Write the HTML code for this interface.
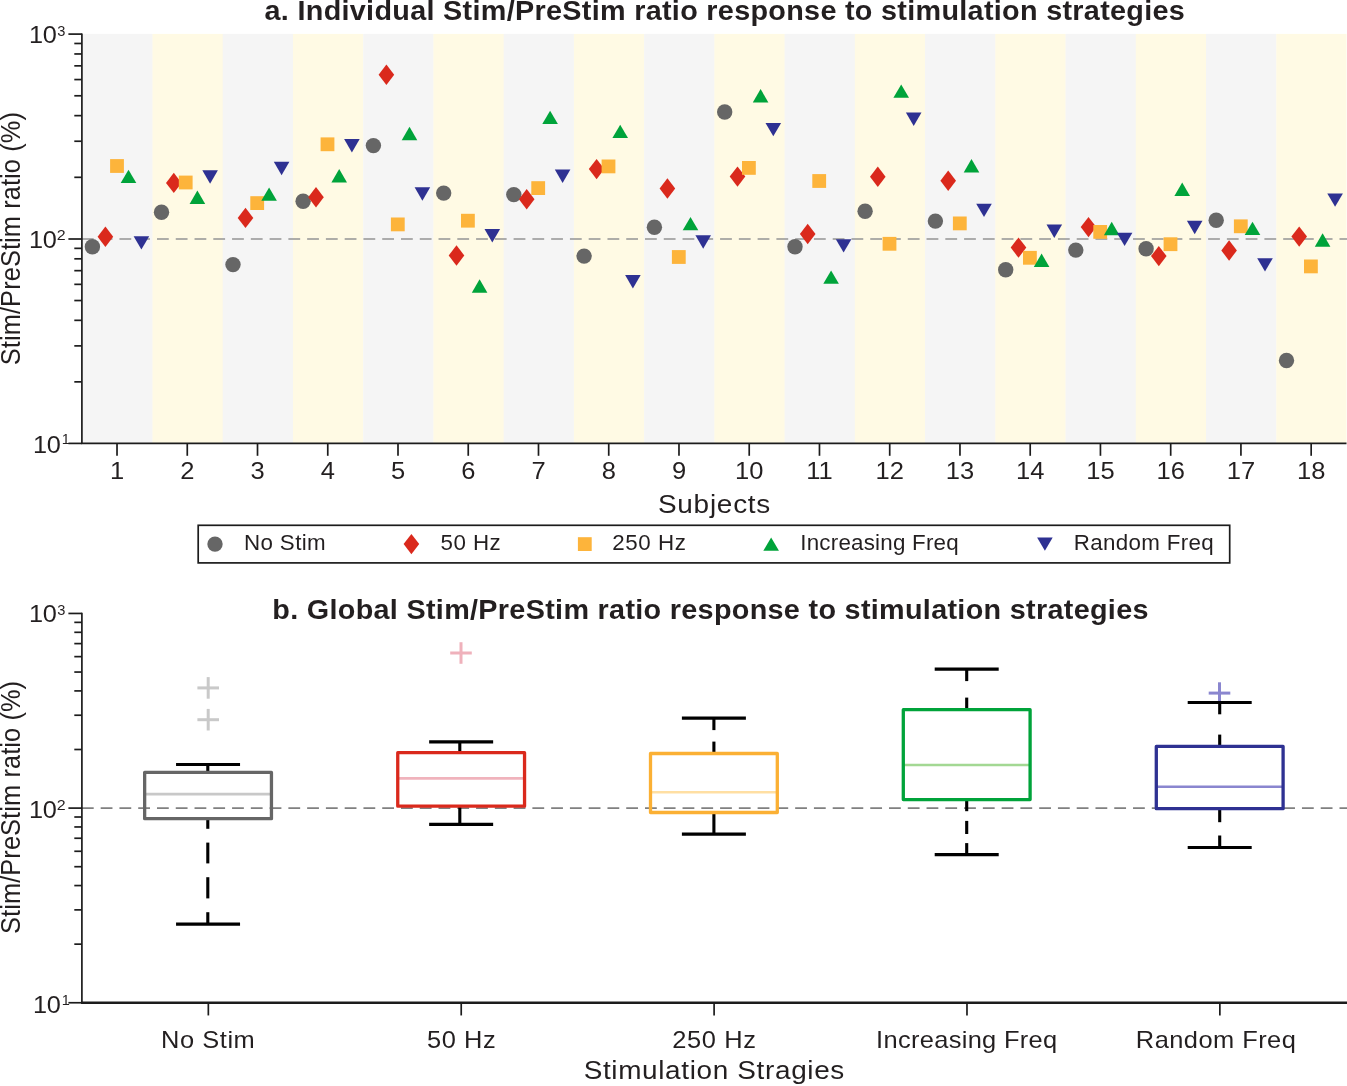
<!DOCTYPE html>
<html lang="en">
<head>
<meta charset="utf-8">
<title>Stim/PreStim ratio response to stimulation strategies</title>
<style>
html,body{margin:0;padding:0;background:#fff;}
body{width:1347px;height:1086px;overflow:hidden;}
svg{display:block;will-change:transform;}
svg text{font-family:"Liberation Sans", sans-serif;fill:#231f20;}
</style>
</head>
<body>
<svg width="1347" height="1086" viewBox="0 0 1347 1086">
<rect width="1347" height="1086" fill="#ffffff"/>
<rect x="82.25" y="33.90" width="70.54" height="409.50" fill="#f5f5f5"/>
<rect x="152.49" y="33.90" width="70.54" height="409.50" fill="#fffae4"/>
<rect x="222.72" y="33.90" width="70.54" height="409.50" fill="#f5f5f5"/>
<rect x="292.96" y="33.90" width="70.54" height="409.50" fill="#fffae4"/>
<rect x="363.19" y="33.90" width="70.54" height="409.50" fill="#f5f5f5"/>
<rect x="433.43" y="33.90" width="70.54" height="409.50" fill="#fffae4"/>
<rect x="503.67" y="33.90" width="70.54" height="409.50" fill="#f5f5f5"/>
<rect x="573.90" y="33.90" width="70.54" height="409.50" fill="#fffae4"/>
<rect x="644.14" y="33.90" width="70.54" height="409.50" fill="#f5f5f5"/>
<rect x="714.38" y="33.90" width="70.54" height="409.50" fill="#fffae4"/>
<rect x="784.61" y="33.90" width="70.54" height="409.50" fill="#f5f5f5"/>
<rect x="854.85" y="33.90" width="70.54" height="409.50" fill="#fffae4"/>
<rect x="925.08" y="33.90" width="70.54" height="409.50" fill="#f5f5f5"/>
<rect x="995.32" y="33.90" width="70.54" height="409.50" fill="#fffae4"/>
<rect x="1065.56" y="33.90" width="70.54" height="409.50" fill="#f5f5f5"/>
<rect x="1135.79" y="33.90" width="70.54" height="409.50" fill="#fffae4"/>
<rect x="1206.03" y="33.90" width="70.54" height="409.50" fill="#f5f5f5"/>
<rect x="1276.26" y="33.90" width="70.24" height="409.50" fill="#fffae4"/>
<line x1="81.90" y1="238.9" x2="1348.30" y2="238.9" stroke="#949494" stroke-width="1.55" stroke-dasharray="11.8 6.97"/>
<circle cx="92.40" cy="246.70" r="7.7" fill="#666666"/>
<circle cx="161.50" cy="212.30" r="7.7" fill="#666666"/>
<circle cx="233.00" cy="264.60" r="7.7" fill="#666666"/>
<circle cx="303.10" cy="201.20" r="7.7" fill="#666666"/>
<circle cx="373.40" cy="145.60" r="7.7" fill="#666666"/>
<circle cx="443.70" cy="193.10" r="7.7" fill="#666666"/>
<circle cx="513.80" cy="194.60" r="7.7" fill="#666666"/>
<circle cx="584.10" cy="256.10" r="7.7" fill="#666666"/>
<circle cx="654.40" cy="227.30" r="7.7" fill="#666666"/>
<circle cx="724.70" cy="112.00" r="7.7" fill="#666666"/>
<circle cx="795.00" cy="246.70" r="7.7" fill="#666666"/>
<circle cx="865.10" cy="211.30" r="7.7" fill="#666666"/>
<circle cx="935.40" cy="221.10" r="7.7" fill="#666666"/>
<circle cx="1005.70" cy="269.70" r="7.7" fill="#666666"/>
<circle cx="1075.80" cy="250.10" r="7.7" fill="#666666"/>
<circle cx="1146.10" cy="248.80" r="7.7" fill="#666666"/>
<circle cx="1216.20" cy="220.30" r="7.7" fill="#666666"/>
<circle cx="1286.50" cy="360.50" r="7.7" fill="#666666"/>
<path d="M105.40 226.50L113.20 236.70L105.40 246.90L97.60 236.70Z" fill="#da291c"/>
<path d="M173.80 172.70L181.60 182.90L173.80 193.10L166.00 182.90Z" fill="#da291c"/>
<path d="M245.50 207.70L253.30 217.90L245.50 228.10L237.70 217.90Z" fill="#da291c"/>
<path d="M316.00 187.10L323.80 197.30L316.00 207.50L308.20 197.30Z" fill="#da291c"/>
<path d="M386.40 64.60L394.20 74.80L386.40 85.00L378.60 74.80Z" fill="#da291c"/>
<path d="M456.50 245.30L464.30 255.50L456.50 265.70L448.70 255.50Z" fill="#da291c"/>
<path d="M526.70 189.00L534.50 199.20L526.70 209.40L518.90 199.20Z" fill="#da291c"/>
<path d="M596.60 158.90L604.40 169.10L596.60 179.30L588.80 169.10Z" fill="#da291c"/>
<path d="M667.40 178.30L675.20 188.50L667.40 198.70L659.60 188.50Z" fill="#da291c"/>
<path d="M737.50 166.40L745.30 176.60L737.50 186.80L729.70 176.60Z" fill="#da291c"/>
<path d="M807.70 223.80L815.50 234.00L807.70 244.20L799.90 234.00Z" fill="#da291c"/>
<path d="M877.80 166.60L885.60 176.80L877.80 187.00L870.00 176.80Z" fill="#da291c"/>
<path d="M948.20 170.60L956.00 180.80L948.20 191.00L940.40 180.80Z" fill="#da291c"/>
<path d="M1018.50 237.40L1026.30 247.60L1018.50 257.80L1010.70 247.60Z" fill="#da291c"/>
<path d="M1088.50 216.90L1096.30 227.10L1088.50 237.30L1080.70 227.10Z" fill="#da291c"/>
<path d="M1158.80 245.90L1166.60 256.10L1158.80 266.30L1151.00 256.10Z" fill="#da291c"/>
<path d="M1229.10 240.30L1236.90 250.50L1229.10 260.70L1221.30 250.50Z" fill="#da291c"/>
<path d="M1299.20 226.40L1307.00 236.60L1299.20 246.80L1291.40 236.60Z" fill="#da291c"/>
<rect x="110.10" y="159.10" width="13.80" height="13.80" fill="#fdb43b"/>
<rect x="178.80" y="175.60" width="13.80" height="13.80" fill="#fdb43b"/>
<rect x="250.30" y="196.20" width="13.80" height="13.80" fill="#fdb43b"/>
<rect x="320.60" y="137.40" width="13.80" height="13.80" fill="#fdb43b"/>
<rect x="390.90" y="217.50" width="13.80" height="13.80" fill="#fdb43b"/>
<rect x="461.00" y="213.80" width="13.80" height="13.80" fill="#fdb43b"/>
<rect x="531.30" y="181.20" width="13.80" height="13.80" fill="#fdb43b"/>
<rect x="601.60" y="159.50" width="13.80" height="13.80" fill="#fdb43b"/>
<rect x="671.90" y="250.10" width="13.80" height="13.80" fill="#fdb43b"/>
<rect x="742.00" y="161.00" width="13.80" height="13.80" fill="#fdb43b"/>
<rect x="812.30" y="174.10" width="13.80" height="13.80" fill="#fdb43b"/>
<rect x="882.60" y="236.90" width="13.80" height="13.80" fill="#fdb43b"/>
<rect x="952.90" y="216.50" width="13.80" height="13.80" fill="#fdb43b"/>
<rect x="1023.00" y="250.90" width="13.80" height="13.80" fill="#fdb43b"/>
<rect x="1093.30" y="225.00" width="13.80" height="13.80" fill="#fdb43b"/>
<rect x="1163.60" y="237.30" width="13.80" height="13.80" fill="#fdb43b"/>
<rect x="1233.90" y="219.40" width="13.80" height="13.80" fill="#fdb43b"/>
<rect x="1304.00" y="259.50" width="13.80" height="13.80" fill="#fdb43b"/>
<path d="M128.50 169.70L136.30 183.10L120.70 183.10Z" fill="#00a33a"/>
<path d="M197.40 190.60L205.20 204.00L189.60 204.00Z" fill="#00a33a"/>
<path d="M269.10 187.40L276.90 200.80L261.30 200.80Z" fill="#00a33a"/>
<path d="M339.20 169.10L347.00 182.50L331.40 182.50Z" fill="#00a33a"/>
<path d="M409.50 126.80L417.30 140.20L401.70 140.20Z" fill="#00a33a"/>
<path d="M479.60 279.30L487.40 292.70L471.80 292.70Z" fill="#00a33a"/>
<path d="M550.10 110.70L557.90 124.10L542.30 124.10Z" fill="#00a33a"/>
<path d="M620.20 124.70L628.00 138.10L612.40 138.10Z" fill="#00a33a"/>
<path d="M690.50 216.90L698.30 230.30L682.70 230.30Z" fill="#00a33a"/>
<path d="M760.60 89.00L768.40 102.40L752.80 102.40Z" fill="#00a33a"/>
<path d="M831.10 270.40L838.90 283.80L823.30 283.80Z" fill="#00a33a"/>
<path d="M901.20 84.40L909.00 97.80L893.40 97.80Z" fill="#00a33a"/>
<path d="M971.50 159.00L979.30 172.40L963.70 172.40Z" fill="#00a33a"/>
<path d="M1041.60 253.60L1049.40 267.00L1033.80 267.00Z" fill="#00a33a"/>
<path d="M1111.70 221.80L1119.50 235.20L1103.90 235.20Z" fill="#00a33a"/>
<path d="M1182.20 182.60L1190.00 196.00L1174.40 196.00Z" fill="#00a33a"/>
<path d="M1252.50 221.70L1260.30 235.10L1244.70 235.10Z" fill="#00a33a"/>
<path d="M1322.60 233.30L1330.40 246.70L1314.80 246.70Z" fill="#00a33a"/>
<path d="M141.40 249.60L149.20 236.20L133.60 236.20Z" fill="#2e3192"/>
<path d="M210.10 183.70L217.90 170.30L202.30 170.30Z" fill="#2e3192"/>
<path d="M281.60 175.20L289.40 161.80L273.80 161.80Z" fill="#2e3192"/>
<path d="M351.90 152.40L359.70 139.00L344.10 139.00Z" fill="#2e3192"/>
<path d="M422.40 200.70L430.20 187.30L414.60 187.30Z" fill="#2e3192"/>
<path d="M492.30 242.40L500.10 229.00L484.50 229.00Z" fill="#2e3192"/>
<path d="M562.60 182.90L570.40 169.50L554.80 169.50Z" fill="#2e3192"/>
<path d="M632.90 288.50L640.70 275.10L625.10 275.10Z" fill="#2e3192"/>
<path d="M703.20 248.70L711.00 235.30L695.40 235.30Z" fill="#2e3192"/>
<path d="M773.30 136.30L781.10 122.90L765.50 122.90Z" fill="#2e3192"/>
<path d="M843.60 252.60L851.40 239.20L835.80 239.20Z" fill="#2e3192"/>
<path d="M913.70 125.90L921.50 112.50L905.90 112.50Z" fill="#2e3192"/>
<path d="M984.00 217.10L991.80 203.70L976.20 203.70Z" fill="#2e3192"/>
<path d="M1054.30 237.90L1062.10 224.50L1046.50 224.50Z" fill="#2e3192"/>
<path d="M1124.60 246.10L1132.40 232.70L1116.80 232.70Z" fill="#2e3192"/>
<path d="M1194.70 234.20L1202.50 220.80L1186.90 220.80Z" fill="#2e3192"/>
<path d="M1265.00 271.60L1272.80 258.20L1257.20 258.20Z" fill="#2e3192"/>
<path d="M1335.10 206.80L1342.90 193.40L1327.30 193.40Z" fill="#2e3192"/>
<line x1="81.9" y1="33.40" x2="81.9" y2="444.10" stroke="#1c1c1c" stroke-width="1.7"/>
<line x1="68.40" y1="443.40" x2="81.90" y2="443.40" stroke="#1c1c1c" stroke-width="1.7"/>
<line x1="68.40" y1="239.00" x2="81.90" y2="239.00" stroke="#1c1c1c" stroke-width="1.7"/>
<line x1="68.40" y1="34.10" x2="81.90" y2="34.10" stroke="#1c1c1c" stroke-width="1.7"/>
<line x1="74.30" y1="381.87" x2="81.90" y2="381.87" stroke="#1c1c1c" stroke-width="1.7"/>
<line x1="74.30" y1="345.88" x2="81.90" y2="345.88" stroke="#1c1c1c" stroke-width="1.7"/>
<line x1="74.30" y1="320.34" x2="81.90" y2="320.34" stroke="#1c1c1c" stroke-width="1.7"/>
<line x1="74.30" y1="300.53" x2="81.90" y2="300.53" stroke="#1c1c1c" stroke-width="1.7"/>
<line x1="74.30" y1="284.35" x2="81.90" y2="284.35" stroke="#1c1c1c" stroke-width="1.7"/>
<line x1="74.30" y1="270.66" x2="81.90" y2="270.66" stroke="#1c1c1c" stroke-width="1.7"/>
<line x1="74.30" y1="258.81" x2="81.90" y2="258.81" stroke="#1c1c1c" stroke-width="1.7"/>
<line x1="74.30" y1="248.35" x2="81.90" y2="248.35" stroke="#1c1c1c" stroke-width="1.7"/>
<line x1="74.30" y1="177.32" x2="81.90" y2="177.32" stroke="#1c1c1c" stroke-width="1.7"/>
<line x1="74.30" y1="141.24" x2="81.90" y2="141.24" stroke="#1c1c1c" stroke-width="1.7"/>
<line x1="74.30" y1="115.64" x2="81.90" y2="115.64" stroke="#1c1c1c" stroke-width="1.7"/>
<line x1="74.30" y1="95.78" x2="81.90" y2="95.78" stroke="#1c1c1c" stroke-width="1.7"/>
<line x1="74.30" y1="79.56" x2="81.90" y2="79.56" stroke="#1c1c1c" stroke-width="1.7"/>
<line x1="74.30" y1="65.84" x2="81.90" y2="65.84" stroke="#1c1c1c" stroke-width="1.7"/>
<line x1="74.30" y1="53.96" x2="81.90" y2="53.96" stroke="#1c1c1c" stroke-width="1.7"/>
<line x1="74.30" y1="43.48" x2="81.90" y2="43.48" stroke="#1c1c1c" stroke-width="1.7"/>
<line x1="81.20" y1="443.4" x2="1346.50" y2="443.4" stroke="#1c1c1c" stroke-width="1.7"/>
<line x1="117.02" y1="443.4" x2="117.02" y2="455.80" stroke="#1c1c1c" stroke-width="1.7"/>
<text transform="translate(117.02 479.00) scale(1.1000 1)" font-size="23.2" text-anchor="middle">1</text>
<line x1="187.27" y1="443.4" x2="187.27" y2="455.80" stroke="#1c1c1c" stroke-width="1.7"/>
<text transform="translate(187.27 479.00) scale(1.1000 1)" font-size="23.2" text-anchor="middle">2</text>
<line x1="257.51" y1="443.4" x2="257.51" y2="455.80" stroke="#1c1c1c" stroke-width="1.7"/>
<text transform="translate(257.51 479.00) scale(1.1000 1)" font-size="23.2" text-anchor="middle">3</text>
<line x1="327.76" y1="443.4" x2="327.76" y2="455.80" stroke="#1c1c1c" stroke-width="1.7"/>
<text transform="translate(327.76 479.00) scale(1.1000 1)" font-size="23.2" text-anchor="middle">4</text>
<line x1="398.00" y1="443.4" x2="398.00" y2="455.80" stroke="#1c1c1c" stroke-width="1.7"/>
<text transform="translate(398.00 479.00) scale(1.1000 1)" font-size="23.2" text-anchor="middle">5</text>
<line x1="468.24" y1="443.4" x2="468.24" y2="455.80" stroke="#1c1c1c" stroke-width="1.7"/>
<text transform="translate(468.24 479.00) scale(1.1000 1)" font-size="23.2" text-anchor="middle">6</text>
<line x1="538.49" y1="443.4" x2="538.49" y2="455.80" stroke="#1c1c1c" stroke-width="1.7"/>
<text transform="translate(538.49 479.00) scale(1.1000 1)" font-size="23.2" text-anchor="middle">7</text>
<line x1="608.73" y1="443.4" x2="608.73" y2="455.80" stroke="#1c1c1c" stroke-width="1.7"/>
<text transform="translate(608.73 479.00) scale(1.1000 1)" font-size="23.2" text-anchor="middle">8</text>
<line x1="678.98" y1="443.4" x2="678.98" y2="455.80" stroke="#1c1c1c" stroke-width="1.7"/>
<text transform="translate(678.98 479.00) scale(1.1000 1)" font-size="23.2" text-anchor="middle">9</text>
<line x1="749.22" y1="443.4" x2="749.22" y2="455.80" stroke="#1c1c1c" stroke-width="1.7"/>
<text transform="translate(749.22 479.00) scale(1.1000 1)" font-size="23.2" text-anchor="middle">10</text>
<line x1="819.47" y1="443.4" x2="819.47" y2="455.80" stroke="#1c1c1c" stroke-width="1.7"/>
<text transform="translate(819.47 479.00) scale(1.1000 1)" font-size="23.2" text-anchor="middle">11</text>
<line x1="889.71" y1="443.4" x2="889.71" y2="455.80" stroke="#1c1c1c" stroke-width="1.7"/>
<text transform="translate(889.71 479.00) scale(1.1000 1)" font-size="23.2" text-anchor="middle">12</text>
<line x1="959.96" y1="443.4" x2="959.96" y2="455.80" stroke="#1c1c1c" stroke-width="1.7"/>
<text transform="translate(959.96 479.00) scale(1.1000 1)" font-size="23.2" text-anchor="middle">13</text>
<line x1="1030.20" y1="443.4" x2="1030.20" y2="455.80" stroke="#1c1c1c" stroke-width="1.7"/>
<text transform="translate(1030.20 479.00) scale(1.1000 1)" font-size="23.2" text-anchor="middle">14</text>
<line x1="1100.44" y1="443.4" x2="1100.44" y2="455.80" stroke="#1c1c1c" stroke-width="1.7"/>
<text transform="translate(1100.44 479.00) scale(1.1000 1)" font-size="23.2" text-anchor="middle">15</text>
<line x1="1170.69" y1="443.4" x2="1170.69" y2="455.80" stroke="#1c1c1c" stroke-width="1.7"/>
<text transform="translate(1170.69 479.00) scale(1.1000 1)" font-size="23.2" text-anchor="middle">16</text>
<line x1="1240.93" y1="443.4" x2="1240.93" y2="455.80" stroke="#1c1c1c" stroke-width="1.7"/>
<text transform="translate(1240.93 479.00) scale(1.1000 1)" font-size="23.2" text-anchor="middle">17</text>
<line x1="1311.18" y1="443.4" x2="1311.18" y2="455.80" stroke="#1c1c1c" stroke-width="1.7"/>
<text transform="translate(1311.18 479.00) scale(1.1000 1)" font-size="23.2" text-anchor="middle">18</text>
<text transform="translate(32.92 453.00) scale(1.0500 1)" font-size="24.1" letter-spacing="-0.319">10</text>
<text transform="translate(61.70 444.00)" font-size="14.5" text-anchor="start">1</text>
<text transform="translate(28.92 248.00) scale(1.0500 1)" font-size="24.1" letter-spacing="-0.319">10</text>
<text transform="translate(56.65 240.00) scale(1.0959 1)" font-size="14.6">2</text>
<text transform="translate(28.92 43.00) scale(1.0500 1)" font-size="24.1" letter-spacing="-0.319">10</text>
<text transform="translate(57.24 36.00) scale(0.9518 1)" font-size="15.4">3</text>
<text transform="translate(264.55 20.00) scale(1.0700 1)" font-size="26.9" font-weight="bold" letter-spacing="0.287">a. Individual Stim/PreStim ratio response to stimulation strategies</text>
<text transform="translate(657.93 513.00) scale(1.0750 1)" font-size="26.0" letter-spacing="0.697">Subjects</text>
<text transform="translate(20.15 365.19) rotate(-90) scale(0.9200 1)" font-size="27.6" letter-spacing="0.108">Stim/PreStim ratio (%)</text>
<rect x="198.2" y="525.3" width="1031.5" height="37.6" fill="#fff" stroke="#1c1c1c" stroke-width="1.7"/>
<circle cx="215.00" cy="544.10" r="7.7" fill="#666666"/>
<path d="M411.40 533.90L419.20 544.10L411.40 554.30L403.60 544.10Z" fill="#da291c"/>
<rect x="577.90" y="537.20" width="13.80" height="13.80" fill="#fdb43b"/>
<path d="M771.15 537.40L778.95 550.80L763.35 550.80Z" fill="#00a33a"/>
<path d="M1044.90 550.80L1052.70 537.40L1037.10 537.40Z" fill="#2e3192"/>
<text transform="translate(244.05 550.00) scale(1.0550 1)" font-size="21.2" letter-spacing="0.327">No Stim</text>
<text transform="translate(440.60 550.00) scale(1.0550 1)" font-size="21.2" letter-spacing="0.384">50 Hz</text>
<text transform="translate(612.25 550.00) scale(1.0550 1)" font-size="21.2" letter-spacing="0.537">250 Hz</text>
<text transform="translate(800.25 550.00) scale(1.0550 1)" font-size="21.2" letter-spacing="0.211">Increasing Freq</text>
<text transform="translate(1073.85 550.00) scale(1.0550 1)" font-size="21.2" letter-spacing="0.300">Random Freq</text>
<line x1="81.90" y1="808.1" x2="1348.30" y2="808.1" stroke="#808080" stroke-width="1.7" stroke-dasharray="11.8 6.97"/>
<line x1="197.40" y1="687.90" x2="219.00" y2="687.90" stroke="#c9c9c9" stroke-width="3.0" stroke-linecap="butt"/>
<line x1="208.20" y1="677.10" x2="208.20" y2="698.70" stroke="#c9c9c9" stroke-width="3.0" stroke-linecap="butt"/>
<line x1="197.40" y1="719.70" x2="219.00" y2="719.70" stroke="#c9c9c9" stroke-width="3.0" stroke-linecap="butt"/>
<line x1="208.20" y1="708.90" x2="208.20" y2="730.50" stroke="#c9c9c9" stroke-width="3.0" stroke-linecap="butt"/>
<line x1="450.20" y1="653.00" x2="471.80" y2="653.00" stroke="#efb1bb" stroke-width="3.0" stroke-linecap="butt"/>
<line x1="461.00" y1="642.20" x2="461.00" y2="663.80" stroke="#efb1bb" stroke-width="3.0" stroke-linecap="butt"/>
<line x1="1208.70" y1="693.10" x2="1230.30" y2="693.10" stroke="#8a86cf" stroke-width="3.0" stroke-linecap="butt"/>
<line x1="1219.50" y1="682.30" x2="1219.50" y2="703.90" stroke="#8a86cf" stroke-width="3.0" stroke-linecap="butt"/>
<line x1="207.80" y1="764.50" x2="207.80" y2="772.40" stroke="#000" stroke-width="3.1" stroke-linecap="butt"/>
<line x1="207.80" y1="818.70" x2="207.80" y2="828.80" stroke="#000" stroke-width="3.1" stroke-linecap="butt"/>
<line x1="207.80" y1="842.60" x2="207.80" y2="863.40" stroke="#000" stroke-width="3.1" stroke-linecap="butt"/>
<line x1="207.80" y1="877.20" x2="207.80" y2="898.40" stroke="#000" stroke-width="3.1" stroke-linecap="butt"/>
<line x1="207.80" y1="912.20" x2="207.80" y2="924.20" stroke="#000" stroke-width="3.1" stroke-linecap="butt"/>
<line x1="176.05" y1="764.50" x2="240.05" y2="764.50" stroke="#000" stroke-width="3.2" stroke-linecap="butt"/>
<line x1="176.05" y1="924.20" x2="240.05" y2="924.20" stroke="#000" stroke-width="3.2" stroke-linecap="butt"/>
<line x1="144.65" y1="794.10" x2="271.45" y2="794.10" stroke="#c8c8c8" stroke-width="2.6" stroke-linecap="butt"/>
<rect x="144.65" y="772.40" width="126.80" height="46.30" fill="none" stroke="#666666" stroke-width="3.3" stroke-linejoin="round"/>
<line x1="459.80" y1="741.80" x2="459.80" y2="752.70" stroke="#000" stroke-width="3.1" stroke-linecap="butt"/>
<line x1="459.80" y1="806.20" x2="459.80" y2="824.30" stroke="#000" stroke-width="3.1" stroke-linecap="butt"/>
<line x1="429.15" y1="741.80" x2="493.15" y2="741.80" stroke="#000" stroke-width="3.2" stroke-linecap="butt"/>
<line x1="429.15" y1="824.30" x2="493.15" y2="824.30" stroke="#000" stroke-width="3.2" stroke-linecap="butt"/>
<line x1="397.75" y1="778.40" x2="524.55" y2="778.40" stroke="#f0b3bc" stroke-width="2.6" stroke-linecap="butt"/>
<rect x="397.75" y="752.70" width="126.80" height="53.50" fill="none" stroke="#da291c" stroke-width="3.3" stroke-linejoin="round"/>
<line x1="713.90" y1="718.20" x2="713.90" y2="730.10" stroke="#000" stroke-width="3.1" stroke-linecap="butt"/>
<line x1="713.90" y1="741.60" x2="713.90" y2="753.50" stroke="#000" stroke-width="3.1" stroke-linecap="butt"/>
<line x1="713.90" y1="812.50" x2="713.90" y2="834.20" stroke="#000" stroke-width="3.1" stroke-linecap="butt"/>
<line x1="681.90" y1="718.20" x2="745.90" y2="718.20" stroke="#000" stroke-width="3.2" stroke-linecap="butt"/>
<line x1="681.90" y1="834.20" x2="745.90" y2="834.20" stroke="#000" stroke-width="3.2" stroke-linecap="butt"/>
<line x1="650.50" y1="792.20" x2="777.30" y2="792.20" stroke="#ffdfa3" stroke-width="2.6" stroke-linecap="butt"/>
<rect x="650.50" y="753.50" width="126.80" height="59.00" fill="none" stroke="#fbb034" stroke-width="3.3" stroke-linejoin="round"/>
<line x1="966.70" y1="669.10" x2="966.70" y2="681.10" stroke="#000" stroke-width="3.1" stroke-linecap="butt"/>
<line x1="966.70" y1="697.60" x2="966.70" y2="709.70" stroke="#000" stroke-width="3.1" stroke-linecap="butt"/>
<line x1="966.70" y1="799.60" x2="966.70" y2="811.20" stroke="#000" stroke-width="3.1" stroke-linecap="butt"/>
<line x1="966.70" y1="820.90" x2="966.70" y2="834.00" stroke="#000" stroke-width="3.1" stroke-linecap="butt"/>
<line x1="966.70" y1="843.10" x2="966.70" y2="854.70" stroke="#000" stroke-width="3.1" stroke-linecap="butt"/>
<line x1="934.70" y1="669.10" x2="998.70" y2="669.10" stroke="#000" stroke-width="3.2" stroke-linecap="butt"/>
<line x1="934.70" y1="854.70" x2="998.70" y2="854.70" stroke="#000" stroke-width="3.2" stroke-linecap="butt"/>
<line x1="903.30" y1="765.00" x2="1030.10" y2="765.00" stroke="#a3d893" stroke-width="2.6" stroke-linecap="butt"/>
<rect x="903.30" y="709.70" width="126.80" height="89.90" fill="none" stroke="#00a33a" stroke-width="3.3" stroke-linejoin="round"/>
<line x1="1219.70" y1="702.50" x2="1219.70" y2="714.30" stroke="#000" stroke-width="3.1" stroke-linecap="butt"/>
<line x1="1219.70" y1="734.60" x2="1219.70" y2="746.40" stroke="#000" stroke-width="3.1" stroke-linecap="butt"/>
<line x1="1219.70" y1="808.70" x2="1219.70" y2="822.20" stroke="#000" stroke-width="3.1" stroke-linecap="butt"/>
<line x1="1219.70" y1="835.50" x2="1219.70" y2="847.50" stroke="#000" stroke-width="3.1" stroke-linecap="butt"/>
<line x1="1187.70" y1="702.50" x2="1251.70" y2="702.50" stroke="#000" stroke-width="3.2" stroke-linecap="butt"/>
<line x1="1187.70" y1="847.50" x2="1251.70" y2="847.50" stroke="#000" stroke-width="3.2" stroke-linecap="butt"/>
<line x1="1156.30" y1="786.80" x2="1283.10" y2="786.80" stroke="#8a86cf" stroke-width="2.6" stroke-linecap="butt"/>
<rect x="1156.30" y="746.40" width="126.80" height="62.30" fill="none" stroke="#2e3192" stroke-width="3.3" stroke-linejoin="round"/>
<line x1="81.9" y1="612.75" x2="81.9" y2="1003.45" stroke="#1c1c1c" stroke-width="1.7"/>
<line x1="68.40" y1="1002.75" x2="81.90" y2="1002.75" stroke="#1c1c1c" stroke-width="1.7"/>
<line x1="68.40" y1="808.10" x2="81.90" y2="808.10" stroke="#1c1c1c" stroke-width="1.7"/>
<line x1="68.40" y1="613.45" x2="81.90" y2="613.45" stroke="#1c1c1c" stroke-width="1.7"/>
<line x1="74.30" y1="944.15" x2="81.90" y2="944.15" stroke="#1c1c1c" stroke-width="1.7"/>
<line x1="74.30" y1="909.88" x2="81.90" y2="909.88" stroke="#1c1c1c" stroke-width="1.7"/>
<line x1="74.30" y1="885.56" x2="81.90" y2="885.56" stroke="#1c1c1c" stroke-width="1.7"/>
<line x1="74.30" y1="866.70" x2="81.90" y2="866.70" stroke="#1c1c1c" stroke-width="1.7"/>
<line x1="74.30" y1="851.28" x2="81.90" y2="851.28" stroke="#1c1c1c" stroke-width="1.7"/>
<line x1="74.30" y1="838.25" x2="81.90" y2="838.25" stroke="#1c1c1c" stroke-width="1.7"/>
<line x1="74.30" y1="826.96" x2="81.90" y2="826.96" stroke="#1c1c1c" stroke-width="1.7"/>
<line x1="74.30" y1="817.01" x2="81.90" y2="817.01" stroke="#1c1c1c" stroke-width="1.7"/>
<line x1="74.30" y1="749.50" x2="81.90" y2="749.50" stroke="#1c1c1c" stroke-width="1.7"/>
<line x1="74.30" y1="715.23" x2="81.90" y2="715.23" stroke="#1c1c1c" stroke-width="1.7"/>
<line x1="74.30" y1="690.91" x2="81.90" y2="690.91" stroke="#1c1c1c" stroke-width="1.7"/>
<line x1="74.30" y1="672.05" x2="81.90" y2="672.05" stroke="#1c1c1c" stroke-width="1.7"/>
<line x1="74.30" y1="656.63" x2="81.90" y2="656.63" stroke="#1c1c1c" stroke-width="1.7"/>
<line x1="74.30" y1="643.60" x2="81.90" y2="643.60" stroke="#1c1c1c" stroke-width="1.7"/>
<line x1="74.30" y1="632.31" x2="81.90" y2="632.31" stroke="#1c1c1c" stroke-width="1.7"/>
<line x1="74.30" y1="622.36" x2="81.90" y2="622.36" stroke="#1c1c1c" stroke-width="1.7"/>
<line x1="81.05" y1="1002.75" x2="1348" y2="1002.75" stroke="#1c1c1c" stroke-width="2.3"/>
<line x1="208.34" y1="1002.75" x2="208.34" y2="1015.45" stroke="#1c1c1c" stroke-width="1.7"/>
<text transform="translate(161.01 1048.00) scale(1.0600 1)" font-size="24.0" letter-spacing="0.524">No Stim</text>
<line x1="461.22" y1="1002.75" x2="461.22" y2="1015.45" stroke="#1c1c1c" stroke-width="1.7"/>
<text transform="translate(427.00 1048.00) scale(1.0600 1)" font-size="24.0" letter-spacing="0.550">50 Hz</text>
<line x1="714.10" y1="1002.75" x2="714.10" y2="1015.45" stroke="#1c1c1c" stroke-width="1.7"/>
<text transform="translate(672.21 1048.00) scale(1.0600 1)" font-size="24.0" letter-spacing="0.581">250 Hz</text>
<line x1="966.98" y1="1002.75" x2="966.98" y2="1015.45" stroke="#1c1c1c" stroke-width="1.7"/>
<text transform="translate(876.11 1048.00) scale(1.0600 1)" font-size="24.0" letter-spacing="0.294">Increasing Freq</text>
<line x1="1219.86" y1="1002.75" x2="1219.86" y2="1015.45" stroke="#1c1c1c" stroke-width="1.7"/>
<text transform="translate(1135.81 1048.00) scale(1.0600 1)" font-size="24.0" letter-spacing="0.432">Random Freq</text>
<text transform="translate(32.92 1013.00) scale(1.0500 1)" font-size="24.1" letter-spacing="-0.319">10</text>
<text transform="translate(61.70 1005.00)" font-size="14.5" text-anchor="start">1</text>
<text transform="translate(28.92 818.00) scale(1.0500 1)" font-size="24.1" letter-spacing="-0.319">10</text>
<text transform="translate(56.65 810.00) scale(1.0959 1)" font-size="14.6">2</text>
<text transform="translate(28.92 622.00) scale(1.0500 1)" font-size="24.1" letter-spacing="-0.319">10</text>
<text transform="translate(57.24 615.00) scale(0.9518 1)" font-size="15.4">3</text>
<text transform="translate(272.30 619.00) scale(1.0700 1)" font-size="26.9" font-weight="bold" letter-spacing="0.291">b. Global Stim/PreStim ratio response to stimulation strategies</text>
<text transform="translate(583.63 1079.00) scale(1.0750 1)" font-size="26.0" letter-spacing="0.597">Stimulation Stragies</text>
<text transform="translate(20.15 933.99) rotate(-90) scale(0.9200 1)" font-size="27.6" letter-spacing="0.108">Stim/PreStim ratio (%)</text>
</svg>
</body>
</html>
